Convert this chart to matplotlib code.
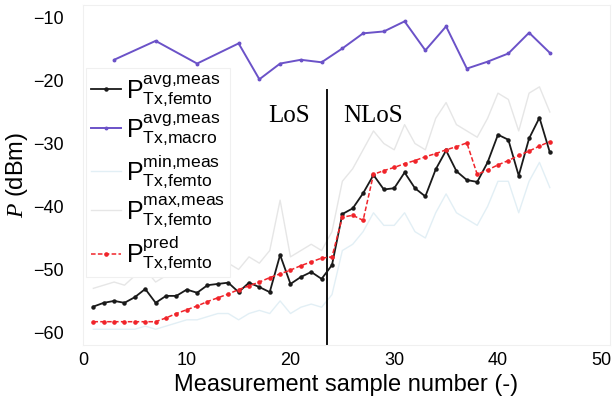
import matplotlib
matplotlib.use('Agg')
import matplotlib.pyplot as plt
import numpy as np

plt.rcParams['font.family'] = ['Liberation Sans', 'DejaVu Sans']
plt.rcParams['mathtext.fontset'] = 'custom'
plt.rcParams['mathtext.rm'] = 'Liberation Sans'
plt.rcParams['mathtext.it'] = 'Liberation Serif:italic'

# femto cell samples
x_femto = np.arange(1, 46)
p_avg_femto = [-55.9, -55.3, -55.0, -55.3, -54.4, -53.1, -55.3, -54.2, -54.2, -53.2,
               -53.7, -52.5, -52.3, -52.1, -53.6, -52.1, -52.8, -53.6, -47.7, -52.3,
               -51.2, -50.4, -51.5, -49.3, -41.2, -40.3, -37.9, -35.0, -37.3, -37.1,
               -34.6, -37.1, -38.4, -34.1, -31.1, -34.4, -35.8, -36.1, -33.0, -28.6,
               -29.4, -35.1, -29.2, -25.9, -31.4]
p_min_femto = [-59.5, -59.5, -59.5, -59.5, -59.5, -59.0, -59.5, -59.0, -58.5, -58.0,
               -58.0, -57.5, -57.0, -57.0, -58.0, -57.0, -56.5, -57.0, -55.0, -57.0,
               -56.0, -55.5, -56.0, -54.0, -47.0, -46.0, -44.0, -41.0, -43.0, -43.0,
               -41.0, -44.0, -45.0, -41.0, -38.0, -41.0, -42.0, -43.0, -40.0, -36.0,
               -36.0, -41.0, -36.0, -33.0, -37.0]
p_max_femto = [-53.0, -52.5, -52.0, -52.5, -51.0, -50.0, -52.0, -51.0, -51.0, -50.0,
               -50.5, -49.5, -49.0, -49.0, -50.0, -48.0, -49.0, -47.0, -39.0, -48.0,
               -47.0, -46.0, -47.0, -44.0, -36.0, -34.0, -31.0, -28.0, -30.0, -31.0,
               -27.0, -30.0, -31.0, -26.0, -23.5, -27.0, -28.0, -29.0, -26.0, -22.0,
               -23.0, -28.0, -22.0, -21.0, -25.0]
p_pred_femto = [-58.3, -58.3, -58.3, -58.3, -58.3, -58.3, -58.3, -57.7, -57.0, -56.4,
                -55.8, -55.1, -54.5, -53.9, -53.2, -52.6, -52.0, -51.3, -50.7, -50.1,
                -49.4, -48.8, -48.2, -48.0, -41.7, -41.4, -42.2, -34.9, -34.3, -33.8,
                -33.2, -32.7, -32.1, -31.6, -31.0, -30.5, -29.9, -34.9, -34.2, -33.4,
                -32.7, -31.9, -31.2, -30.4, -29.7]

# macro cell samples
x_macro = [3, 7, 11, 15, 17, 19, 21, 23, 25, 27, 29, 31, 33, 35, 37, 39, 41, 43, 45]
p_avg_macro = [-16.7, -13.7, -17.3, -14.1, -19.8, -17.3, -16.7, -17.1, -14.9, -12.5,
               -12.2, -10.6, -15.2, -11.4, -18.1, -17.0, -15.7, -12.4, -15.6]

los_boundary = 23.5

lab_avg = 'P$^{\\mathrm{avg{,}meas}}_{\\mathrm{Tx{,}femto}}$'
lab_macro = 'P$^{\\mathrm{avg{,}meas}}_{\\mathrm{Tx{,}macro}}$'
lab_min = 'P$^{\\mathrm{min{,}meas}}_{\\mathrm{Tx{,}femto}}$'
lab_max = 'P$^{\\mathrm{max{,}meas}}_{\\mathrm{Tx{,}femto}}$'
lab_pred = 'P$^{\\mathrm{pred}}_{\\mathrm{Tx{,}femto}}$'

fig = plt.figure(figsize=(6.16, 4.08), dpi=100)
ax = fig.add_axes([83/616, 1-345/408, 527/616, 340/408])

l_min, = ax.plot(x_femto, p_min_femto, color='#e2eff5', lw=1.0, label=lab_min, zorder=1)
l_max, = ax.plot(x_femto, p_max_femto, color='#e6e6e6', lw=1.0, label=lab_max, zorder=1)
l_avg, = ax.plot(x_femto, p_avg_femto, color='#1a1a1a', lw=1.3, marker='o', ms=2.2,
                 label=lab_avg, zorder=3)
l_macro, = ax.plot(x_macro, p_avg_macro, color='#6b52c8', lw=1.4, marker='o', ms=1.8,
                   label=lab_macro, zorder=3)
l_pred, = ax.plot(x_femto, p_pred_femto, color='#f0242a', lw=1.1, ls=(0, (3, 1.5)), marker='o', ms=2.3,
                  label=lab_pred, zorder=4)

ax.axvline(los_boundary, ymax=0.75, color='#111111', lw=1.4, zorder=2)
ax.text(19.9, -25.6, 'LoS', family='Liberation Serif', fontsize=18, ha='center', va='center')
ax.text(28.0, -25.6, 'NLoS', family='Liberation Serif', fontsize=18, ha='center', va='center')

ax.set_xlim(0, 50.8)
ax.set_ylim(-62, -8)
ax.set_xticks([0, 10, 20, 30, 40, 50])
ax.set_yticks([-60, -50, -40, -30, -20, -10])
ax.set_yticklabels(['\u221260', '\u221250', '\u221240', '\u221230', '\u221220', '\u221210'])
ax.tick_params(length=0, labelsize=13)
ax.tick_params(axis='y', pad=14)
ax.tick_params(axis='x', pad=5)
for s in ax.spines.values():
    s.set_color('#f0f0f0')

ax.set_xlabel('Measurement sample number (-)', fontsize=17, labelpad=4)
ax.set_ylabel('$P$ (dBm)', fontsize=17, labelpad=2)

leg = ax.legend([l_avg, l_macro, l_min, l_max, l_pred],
                [lab_avg, lab_macro, lab_min, lab_max, lab_pred],
                loc='upper left', bbox_to_anchor=(0.005, 0.815), borderaxespad=0,
                fontsize=18, handlelength=1.2, handletextpad=0.2, labelspacing=0.2,
                borderpad=0.2, framealpha=1.0, fancybox=False)
leg.get_frame().set_edgecolor('#f0f0f0')
leg.get_frame().set_linewidth(0.8)

fig.savefig('out.png', dpi=100)
